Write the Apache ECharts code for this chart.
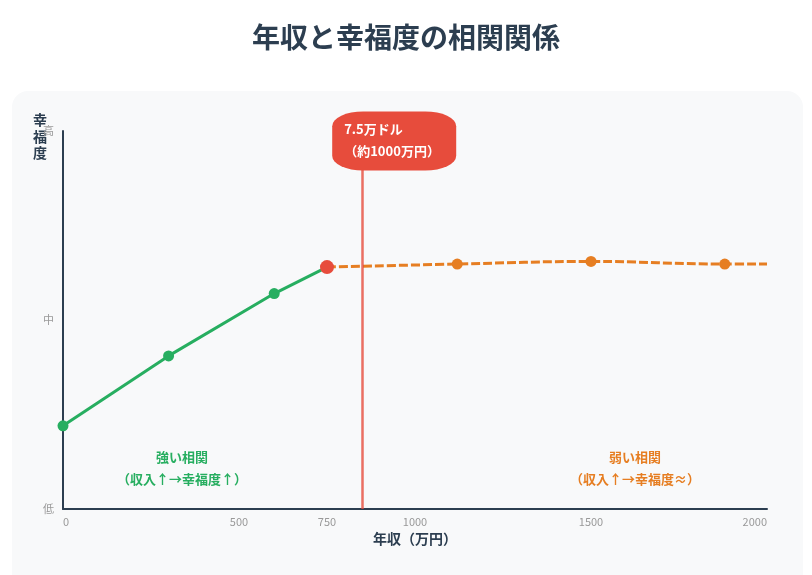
<!DOCTYPE html>
<html>
<head>
<meta charset="utf-8">
<script src="https://cdn.jsdelivr.net/npm/echarts@6/dist/echarts.min.js"></script>
<style>
  html, body { margin: 0; padding: 0; background: #ffffff; }
  #card {
    position: absolute; left: 12px; top: 91px; width: 791px; height: 520px;
    background: #f8f9fa; border-radius: 16px;
  }
  #main { position: absolute; left: 0; top: 0; width: 812px; height: 575px; }
</style>
</head>
<body>
<div id="card"></div>
<div id="main"></div>
<script>
// 年収（万円）と幸福度（0〜100）
var strongData = [[0, 22], [300, 40.5], [600, 57], [750, 64]];
var weakData = [[750, 64], [1120, 64.8], [1500, 65.5], [1880, 64.8], [2000, 64.8]];
var turnPoint = [[750, 64]];
var thresholdX = 850;
var xLabels = [0, 500, 750, 1000, 1500, 2000];
var yLabels = { 0: "低", 50: "中", 100: "高" };

var font = "'Noto Sans CJK JP', 'Noto Sans', sans-serif";
var chart = echarts.init(document.getElementById("main"));

// 端点は転換点の赤い丸に任せる
function withSymbols(list) {
  return list.map(function (d, i) {
    var edge = i === 0 && list === weakData || i === list.length - 1;
    return { value: d, symbol: edge ? "none" : "circle" };
  });
}

var option = {
  textStyle: { fontFamily: font },
  title: {
    text: "年収と幸福度の相関関係",
    left: "center",
    top: 18,
    textStyle: { fontSize: 28, fontWeight: "bold", color: "#2c3e50", fontFamily: font }
  },
  grid: { left: 63, right: 45, top: 131, bottom: 66 },
  xAxis: {
    type: "value",
    min: 0,
    max: 2000,
    interval: 250,
    name: "年収（万円）",
    nameLocation: "middle",
    nameGap: 20,
    nameTextStyle: { fontSize: 14, fontWeight: "bold", color: "#2c3e50" },
    axisLine: { lineStyle: { color: "#2c3e50", width: 2 } },
    axisTick: { show: false },
    splitLine: { show: false },
    axisLabel: {
      color: "#999",
      fontSize: 11,
      margin: 7,
      alignMinLabel: "left",
      alignMaxLabel: "right",
      formatter: function (v) {
        return xLabels.indexOf(v) >= 0 ? String(v) : "";
      }
    }
  },
  yAxis: {
    type: "value",
    min: 0,
    max: 100,
    interval: 50,
    name: "幸\n福\n度",
    nameLocation: "end",
    nameGap: -30,
    nameMoveOverlap: false,
    nameTextStyle: {
      fontSize: 14, fontWeight: "bold", color: "#2c3e50",
      lineHeight: 16.5, align: "right", padding: [0, 16, 0, 0]
    },
    axisLine: { show: true, lineStyle: { color: "#2c3e50", width: 2 } },
    axisTick: { show: false },
    splitLine: { show: false },
    axisLabel: {
      color: "#999",
      fontSize: 11,
      margin: 9,
      formatter: function (v) { return yLabels[v] || ""; }
    }
  },
  series: [
    {
      // 境界線
      type: "line",
      data: [],
      z: 1,
      markLine: {
        silent: true,
        symbol: "none",
        label: { show: false },
        lineStyle: { color: "#e74c3c", width: 2.5, type: "solid", opacity: 0.8 },
        data: [{ xAxis: thresholdX }]
      }
    },
    {
      name: "強い相関",
      type: "line",
      data: withSymbols(strongData),
      z: 3,
      symbolSize: 11,
      lineStyle: { color: "#27ae60", width: 3 },
      itemStyle: { color: "#27ae60" },
      markPoint: {
        symbol: "rect",
        symbolSize: 1,
        itemStyle: { color: "transparent" },
        label: {
          show: true,
          position: "inside",
          color: "#27ae60",
          fontSize: 13,
          fontWeight: "bold",
          lineHeight: 22,
          formatter: "強い相関\n（収入↑→幸福度↑）"
        },
        data: [{ coord: [338, 10.8] }]
      }
    },
    {
      name: "弱い相関",
      type: "line",
      data: withSymbols(weakData),
      z: 3,
      smooth: 0.4,
      symbolSize: 11,
      lineStyle: { color: "#e67e22", width: 3, type: [9, 3] },
      itemStyle: { color: "#e67e22" },
      markPoint: {
        symbol: "rect",
        symbolSize: 1,
        itemStyle: { color: "transparent" },
        label: {
          show: true,
          position: "inside",
          color: "#e67e22",
          fontSize: 13,
          fontWeight: "bold",
          lineHeight: 22,
          formatter: "弱い相関\n（収入↑→幸福度≈）"
        },
        data: [{ coord: [1625, 10.8] }]
      }
    },
    {
      name: "転換点",
      type: "scatter",
      data: turnPoint,
      z: 4,
      symbolSize: 14,
      itemStyle: { color: "#e74c3c", opacity: 1 }
    },
    {
      // 注釈ボックス
      type: "line",
      data: [],
      z: 10,
      markPoint: {
        symbol: "roundRect",
        symbolSize: [124, 59],
        symbolOffset: [32, 10],
        itemStyle: { color: "#e74c3c" },
        label: {
          show: true,
          position: [12, 7],
          align: "left",
          verticalAlign: "top",
          color: "#ffffff",
          fontSize: 13,
          fontWeight: "bold",
          lineHeight: 22,
          formatter: "7.5万ドル\n（約1000万円）"
        },
        data: [{ coord: [thresholdX, 100] }]
      }
    }
  ]
};

chart.setOption(option);
</script>
</body>
</html>
